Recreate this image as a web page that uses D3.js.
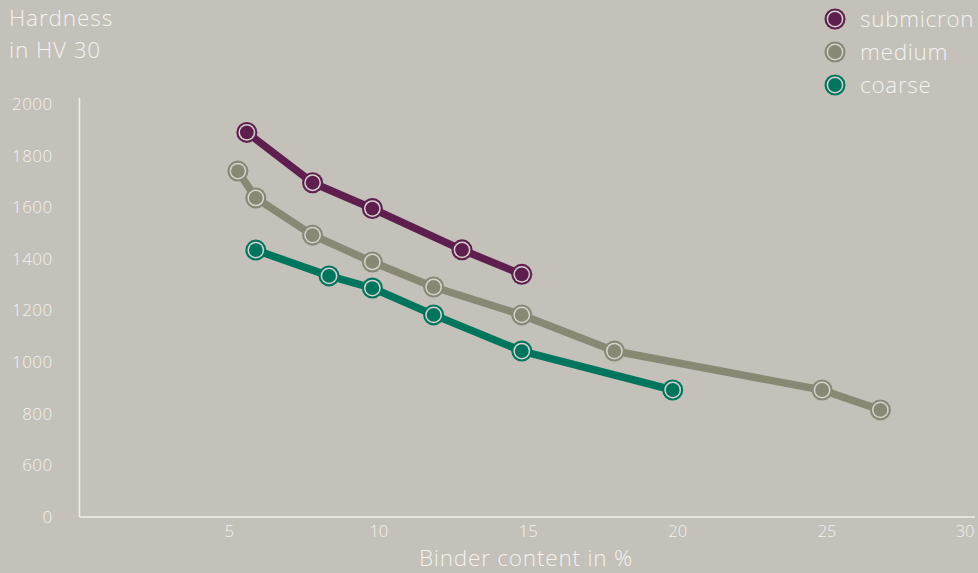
<!DOCTYPE html>
<html lang="en">
<head>
    <meta charset="UTF-8">
    <title>Hardness vs binder content</title>
    <script src="https://d3js.org/d3.v7.min.js"></script>
    <style>
        body {
            margin: 0;
            padding: 0;
            background: #c4c0ba;
        }
        svg text {
            font-family: "Open Sans", Roboto, "Liberation Sans", sans-serif;
            font-weight: 300;
            fill: #f4f2ee;
        }
    </style>
</head>
<body>
    <svg width="978" height="573"></svg>

    <script>
        // values
        const seriesNames = ["submicron", "medium", "coarse"];
        const seriesColors = ["#5e1f4f", "#888875", "#00755d"];

        const submicronX = [5.6, 7.8, 9.8, 12.8, 14.8];
        const submicronY = [1890, 1695, 1595, 1435, 1340];

        const mediumX = [5.3, 5.9, 7.8, 9.8, 11.85, 14.8, 17.9, 24.85, 26.8];
        const mediumY = [1740, 1636, 1492, 1388, 1291, 1183, 1043, 892, 815];

        const coarseX = [5.9, 8.35, 9.8, 11.85, 14.8, 19.85];
        const coarseY = [1434, 1334, 1287, 1183, 1043, 892];

        const xTicks = [5, 10, 15, 20, 25, 30];
        // broken axis: the lowest tick is labelled 0
        const yTicks = [400, 600, 800, 1000, 1200, 1400, 1600, 1800, 2000];
        const yTickLabels = ["0", "600", "800", "1000", "1200", "1400", "1600", "1800", "2000"];

        const series = [
            { name: seriesNames[0], color: seriesColors[0], xs: submicronX, ys: submicronY },
            { name: seriesNames[1], color: seriesColors[1], xs: mediumX, ys: mediumY },
            { name: seriesNames[2], color: seriesColors[2], xs: coarseX, ys: coarseY }
        ];

        const svg = d3.select("svg");
        const axisColor = "#f1efeb";
        const ringColor = "#d6d3ce";

        const xScale = d3.scaleLinear().domain([0, 30]).range([79.5, 976]);
        const yScale = d3.scaleLinear().domain([400, 2000]).range([517, 104]);

        // axes
        const yAxis = svg.append("g")
            .attr("transform", "translate(79.5,0)")
            .call(d3.axisLeft(yScale)
                .tickValues(yTicks)
                .tickSize(0)
                .tickPadding(27)
                .tickFormat((d, i) => yTickLabels[i]));
        yAxis.select(".domain").remove();
        yAxis.selectAll("text").style("font-size", "17px").style("letter-spacing", "0.4px");

        const xAxis = svg.append("g")
            .attr("transform", "translate(0,517)")
            .call(d3.axisBottom(xScale)
                .tickValues(xTicks)
                .tickSize(0)
                .tickPadding(8));
        xAxis.select(".domain").remove();
        xAxis.selectAll("text").style("font-size", "16.5px");
        xAxis.selectAll("text").filter(d => d === 30)
            .attr("text-anchor", "end").attr("x", -2);

        svg.append("line")
            .attr("x1", 79.5).attr("x2", 79.5)
            .attr("y1", 98).attr("y2", 517)
            .attr("stroke", axisColor).attr("stroke-width", 1.5);
        svg.append("line")
            .attr("x1", 79.5).attr("x2", 975)
            .attr("y1", 517).attr("y2", 517)
            .attr("stroke", axisColor).attr("stroke-width", 1.5);

        // titles
        svg.append("text").attr("x", 9).attr("y", 26)
            .style("font-size", "22.5px").style("letter-spacing", "0.9px").text("Hardness");
        svg.append("text").attr("x", 9).attr("y", 58)
            .style("font-size", "22.5px").style("letter-spacing", "0.9px").text("in HV 30");
        svg.append("text").attr("x", 526).attr("y", 566)
            .attr("text-anchor", "middle")
            .style("font-size", "22.5px").style("letter-spacing", "0.8px")
            .text("Binder content in %");

        // lines and markers
        const line = d3.line()
            .x(d => xScale(d[0]))
            .y(d => yScale(d[1]));

        function marker(g, cx, cy, color) {
            g.append("circle").attr("cx", cx).attr("cy", cy).attr("r", 10.5).attr("fill", color);
            g.append("circle").attr("cx", cx).attr("cy", cy).attr("r", 8.4).attr("fill", ringColor);
            g.append("circle").attr("cx", cx).attr("cy", cy).attr("r", 6.9).attr("fill", color);
        }

        // draw medium first so the others sit on top
        [1, 2, 0].forEach(function(k) {
            const s = series[k];
            const pts = s.xs.map((x, i) => [x, s.ys[i]]);
            const g = svg.append("g");
            g.append("path")
                .datum(pts)
                .attr("d", line)
                .attr("fill", "none")
                .attr("stroke", s.color)
                .attr("stroke-width", 7.5)
                .attr("stroke-linejoin", "round");
            pts.forEach(p => marker(g, xScale(p[0]), yScale(p[1]), s.color));
        });

        // legend
        series.forEach(function(s, i) {
            const g = svg.append("g");
            marker(g, 835, 19 + i * 33, s.color);
            g.append("text")
                .attr("x", 860).attr("y", 19 + i * 33 + 8)
                .style("font-size", "22.5px").style("letter-spacing", "0.7px")
                .text(s.name);
        });
    </script>
</body>
</html>
